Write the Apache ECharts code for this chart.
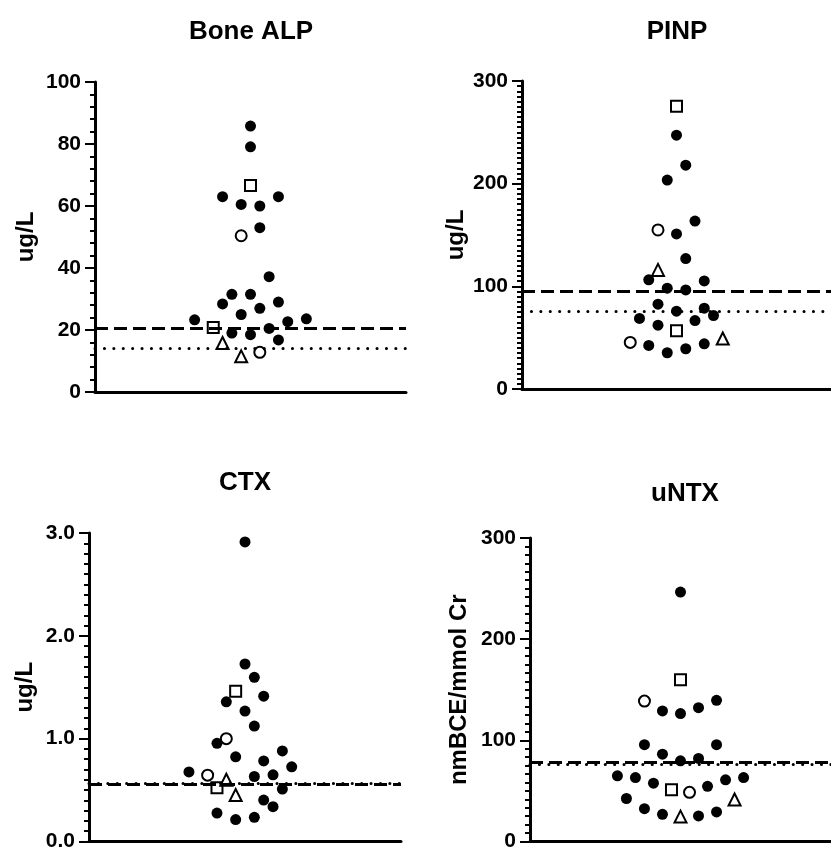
<!DOCTYPE html>
<html>
<head>
<meta charset="utf-8">
<script src="https://cdn.jsdelivr.net/npm/echarts@6/dist/echarts.min.js"></script>
<style>
  html, body { margin: 0; padding: 0; background: #fff; }
  #main { width: 831px; height: 852px; }
</style>
</head>
<body>
<div id="main"></div>
<script>
// [column offset, value] per point
var alpFilled = [[0,85.8],[0,79.1],[-3,63.0],[3,63.0],[-1,60.5],[1,60.0],[1,53.0],[2,37.2],[-2,31.5],[0,31.5],[-3,28.4],[3,29.0],[-1,25.0],[1,27.0],[-6,23.3],[6,23.6],[4,22.7],[-2,19.0],[0,18.5],[2,20.5],[3,16.8]];
var alpSquare = [[0,66.6],[-4,20.8]];
var alpCircle = [[-1,50.4],[1,12.8]];
var alpTriangle = [[-3,15.8],[-1,11.5]];
var alpLines = [20.6, 14.1]; // dashed, dotted

var pinpFilled = [[0,247.2],[1,218],[-1,203.5],[2,163.6],[0,151],[1,127],[-3,106.3],[3,105.3],[-1,98.2],[1,96.5],[-2,82.6],[0,75.8],[3,78.7],[4,71.6],[-4,68.7],[2,66.7],[-2,62.2],[-3,42.4],[3,44],[1,39.2],[-1,35.3]];
var pinpSquare = [[0,275.4],[0,56.7]];
var pinpCircle = [[-2,154.9],[-5,45.4]];
var pinpTriangle = [[-2,116],[5,49.2]];
var pinpLines = [95.6, 75.5];

var ctxFilled = [[0,2.913],[0,1.726],[1,1.597],[2,1.413],[-2,1.358],[0,1.268],[1,1.123],[-3,0.955],[-1,0.823],[4,0.881],[2,0.784],[5,0.726],[-6,0.677],[3,0.648],[1,0.632],[4,0.51],[2,0.403],[3,0.339],[-3,0.277],[1,0.235],[-1,0.213]];
var ctxSquare = [[-1,1.461],[-3,0.523]];
var ctxCircle = [[-2,1.0],[-4,0.645]];
var ctxTriangle = [[-2,0.6],[-1,0.452]];
var ctxLines = [0.56, 0.57];

var ntxFilled = [[0,246.5],[4,139.5],[2,132.3],[-2,129.1],[0,126.5],[-4,95.7],[4,95.7],[-2,86.3],[2,82.1],[0,79.8],[-7,64.9],[-5,63.2],[7,63.2],[5,61],[-3,57.7],[3,54.5],[-6,42.5],[-4,32.4],[4,29.2],[-2,26.9],[2,25.3]];
var ntxSquare = [[0,159.9],[-1,51.2]];
var ntxCircle = [[-4,138.8],[1,48.6]];
var ntxTriangle = [[6,41.5],[0,24.6]];
var ntxLines = [78, 76];

var titles = ["Bone ALP", "PINP", "CTX", "uNTX"];
var yNames = ["ug/L", "ug/L", "ug/L", "nmBCE/mmol Cr"];
var yMax = [100, 300, 3, 300];
var yStep = [20, 100, 1, 100];

var FONT = "'Liberation Sans', Arial, sans-serif";

var panels = [
  { filled: alpFilled, square: alpSquare, circle: alpCircle, tri: alpTriangle, lines: alpLines,
    grid: { left: 95, top: 82, width: 311, height: 310 }, titleX: 251, titleY: 14, nameGap: 57, minor: 5, dec: 0 },
  { filled: pinpFilled, square: pinpSquare, circle: pinpCircle, tri: pinpTriangle, lines: pinpLines,
    grid: { left: 522, top: 81, width: 311, height: 308 }, titleX: 677, titleY: 14, nameGap: 54, minor: 20, dec: 0 },
  { filled: ctxFilled, square: ctxSquare, circle: ctxCircle, tri: ctxTriangle, lines: ctxLines,
    grid: { left: 89, top: 533, width: 312, height: 310 }, titleX: 245, titleY: 465, nameGap: 52, minor: 10, dec: 1 },
  { filled: ntxFilled, square: ntxSquare, circle: ntxCircle, tri: ntxTriangle, lines: ntxLines,
    grid: { left: 530, top: 538, width: 311, height: 308 }, titleX: 685, titleY: 476, nameGap: 59, minor: 12, dec: 0 }
];

function initChart() {
  var chart = echarts.init(document.getElementById("main"), null, { renderer: "canvas" });
  chart.setOption(buildOption());
}

function scatterSeries(i, symbol, size, data, filled) {
  return {
    type: "scatter",
    xAxisIndex: i,
    yAxisIndex: i,
    symbol: symbol,
    symbolSize: size,
    itemStyle: filled
      ? { color: "#000", opacity: 1 }
      : { color: "#fff", borderColor: "#000", borderWidth: 2, opacity: 1 },
    emphasis: { disabled: true },
    data: data,
    z: filled ? 3 : 4
  };
}

function buildOption() {
  var option = {
    animation: false,
    backgroundColor: "#fff",
    title: [],
    grid: [],
    xAxis: [],
    yAxis: [],
    series: []
  };

  panels.forEach(function (p, i) {
    option.title.push({
      text: titles[i],
      left: p.titleX - 5,
      top: p.titleY,
      textAlign: "center",
      textStyle: { fontFamily: FONT, fontSize: 26, fontWeight: "bold", color: "#000" }
    });
    option.grid.push(p.grid);
    option.xAxis.push({
      type: "value",
      gridIndex: i,
      min: -16.7,
      max: 16.7,
      axisLine: { show: true, onZero: false, lineStyle: { color: "#000", width: 3 } },
      axisTick: { show: false },
      axisLabel: { show: false },
      splitLine: { show: false }
    });
    option.yAxis.push({
      type: "value",
      gridIndex: i,
      min: 0,
      max: yMax[i],
      interval: yStep[i],
      name: yNames[i],
      nameLocation: "middle",
      nameGap: p.nameGap,
      nameTextStyle: { fontFamily: FONT, fontSize: 24, fontWeight: "bold", color: "#000" },
      axisLine: { show: true, onZero: false, lineStyle: { color: "#000", width: 3 } },
      axisTick: { show: true, length: 10, lineStyle: { color: "#000", width: 2 } },
      minorTick: { show: true, splitNumber: p.minor, length: 5, lineStyle: { color: "#000", width: 2 } },
      axisLabel: {
        margin: 14,
        fontFamily: FONT,
        fontSize: 21,
        fontWeight: "bold",
        color: "#000",
        formatter: function (v) { return v.toFixed(p.dec); }
      },
      splitLine: { show: false }
    });

    // reference lines: dashed and dotted
    option.series.push({
      type: "scatter",
      xAxisIndex: i,
      yAxisIndex: i,
      data: [],
      silent: true,
      z: 5,
      markLine: {
        silent: true,
        symbol: "none",
        label: { show: false },
        animation: false,
        data: [
          { yAxis: p.lines[0], lineStyle: { color: "#000", width: 3, type: [13, 6] } },
          { yAxis: p.lines[1], lineStyle: { color: "#000", width: 3, type: [0.1, 9.3], cap: "round" } }
        ]
      }
    });

    option.series.push(scatterSeries(i, "circle", 11, p.filled, true));
    option.series.push(scatterSeries(i, "circle", 11, p.circle, false));
    option.series.push(scatterSeries(i, "rect", 11, p.square, false));
    option.series.push(scatterSeries(i, "triangle", 12, p.tri, false));
  });

  return option;
}

initChart();
</script>
</body>
</html>
